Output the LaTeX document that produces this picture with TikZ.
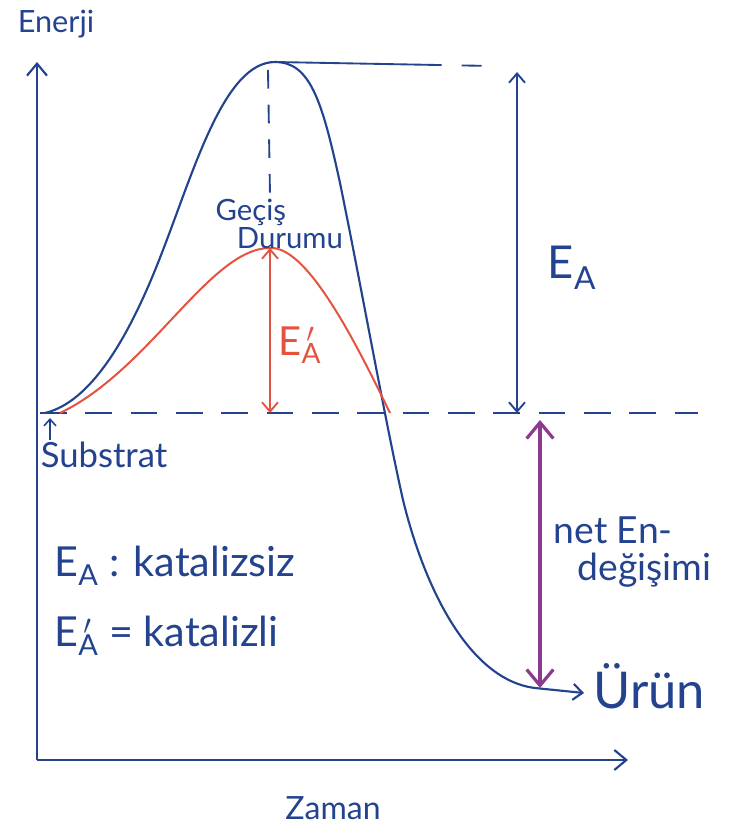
\documentclass[tikz,border=0pt]{standalone}
\usepackage{fontspec}
\setmainfont{Lato}
\usetikzlibrary{arrows.meta,positioning}
\definecolor{inkblue}{HTML}{24438F}
\definecolor{inkred}{HTML}{E4533F}
\definecolor{inkpurple}{HTML}{8C3A8E}
\newcommand{\EA}{E\textsubscript{A}}
\newcommand{\EAp}{E\rlap{\textsuperscript{\,$\prime$}}\textsubscript{A}}

\begin{document}
\begin{tikzpicture}[
  x=0.75pt, y=-0.75pt,
  hand/.style={text=inkblue, inner sep=1pt},
  fs/.style={font=\fontsize{#1}{#1}\selectfont},
  axis/.style={draw=inkblue, line width=2pt, -{Straight Barb[length=9pt,width=15pt,line width=1.6pt]}},
  curve/.style={draw=inkblue, line width=1.6pt},
  lowcurve/.style={draw=inkred, line width=1.5pt},
  level/.style={draw=inkblue, line width=1.4pt, dash pattern=on 20pt off 14pt},
  gap/.style={line width=1.4pt, {Straight Barb[length=7pt,width=12pt]}-{Straight Barb[length=7pt,width=12pt]}},
  netgap/.style={draw=inkpurple, line width=3pt, {Straight Barb[length=12pt,width=20pt,line width=2.4pt]}-{Straight Barb[length=12pt,width=20pt,line width=2.4pt]}}
]
\useasboundingbox (0,0) rectangle (734,830);

% axes
\coordinate (origin) at (37,760);
\coordinate (ytop) at (37,62);
\coordinate (xend) at (628,760);
\draw[axis] (origin) -- (ytop);
\draw[axis] (origin) -- (xend);
\node[hand,fs=23] (enerji) at (56,24) {Enerji};
\node[hand,fs=24] (zaman) at (333,808) {Zaman};

% levels
\coordinate (lvlstart) at (40,413);
\coordinate (lvlend) at (698,413);
\draw[level] (lvlstart) -- (lvlend);

% uncatalysed path
\coordinate (subs) at (45,413);
\coordinate (rise) at (163,250);
\coordinate (peak) at (275,62);
\coordinate (fall) at (340,183);
\coordinate (steep) at (403,500);
\coordinate (prod) at (535,688);
\coordinate (prodend) at (584,693);
\draw[curve] (subs) .. controls (100,400) and (140,310) .. (rise)
  .. controls (195,167) and (225,62) .. (peak)
  .. controls (310,62) and (322,100) .. (fall)
  .. controls (360,280) and (385,420) .. (steep)
  .. controls (425,590) and (470,680) .. (prod);
\draw[curve, -{Straight Barb[length=7pt,width=12pt]}] (prod) -- (prodend);
\node[hand,fs=38,anchor=west] (urun) at (592,686) {Ürün};

% peak guides
\coordinate (topend) at (492,66);
\coordinate (peakfoot) at (270,196);
\draw[level, dash pattern=on 125pt off 15pt on 15pt off 10pt] (peak) -- (topend);
\draw[level, dash pattern=on 14pt off 12pt] (268,70) -- (peakfoot);

% catalysed path
\coordinate (rstart) at (60,413);
\coordinate (rpeak) at (270,248);
\coordinate (rend) at (390,413);
\draw[lowcurve] (rstart) .. controls (150,370) and (210,248) .. (rpeak)
  .. controls (305,246) and (350,330) .. (rend);
\node[hand,fs=22,align=left,anchor=west] (gecis) at (214,224) {Geçiş\\[-1pt]\hspace*{16pt}Durumu};

% activation energies
\coordinate (rbase) at (270,413);
\draw[gap, draw=inkred] (rpeak) -- (rbase);
\node[text=inkred,fs=30] (eap) at (300,345) {\EAp};

\coordinate (eatop) at (517,72);
\coordinate (eabase) at (517,413);
\draw[gap, draw=inkblue] (eatop) -- (eabase);
\node[hand,fs=34] (ea) at (572,268) {\EA};

% net change
\coordinate (nettop) at (540,420);
\coordinate (netbase) at (540,688);
\draw[netgap] (nettop) -- (netbase);
\node[hand,fs=28,align=left,anchor=west] (net) at (552,552) {net En-\\\hspace*{18pt}değişimi};

% substrate
\node[hand,fs=26] (substrat) at (104,455) {Substrat};
\coordinate (subtip) at (50,418);
\draw[draw=inkblue, line width=1.2pt, -{Straight Barb[length=5pt,width=9pt]}] (substrat.north west -| subtip) -- (subtip);

% legend
\node[hand,fs=31,anchor=west] (legA) at (53,566) {\EA\ : katalizsiz};
\node[hand,fs=31,anchor=west] (legB) at (53,636) {\EAp\ = katalizli};
\end{tikzpicture}
\end{document}
